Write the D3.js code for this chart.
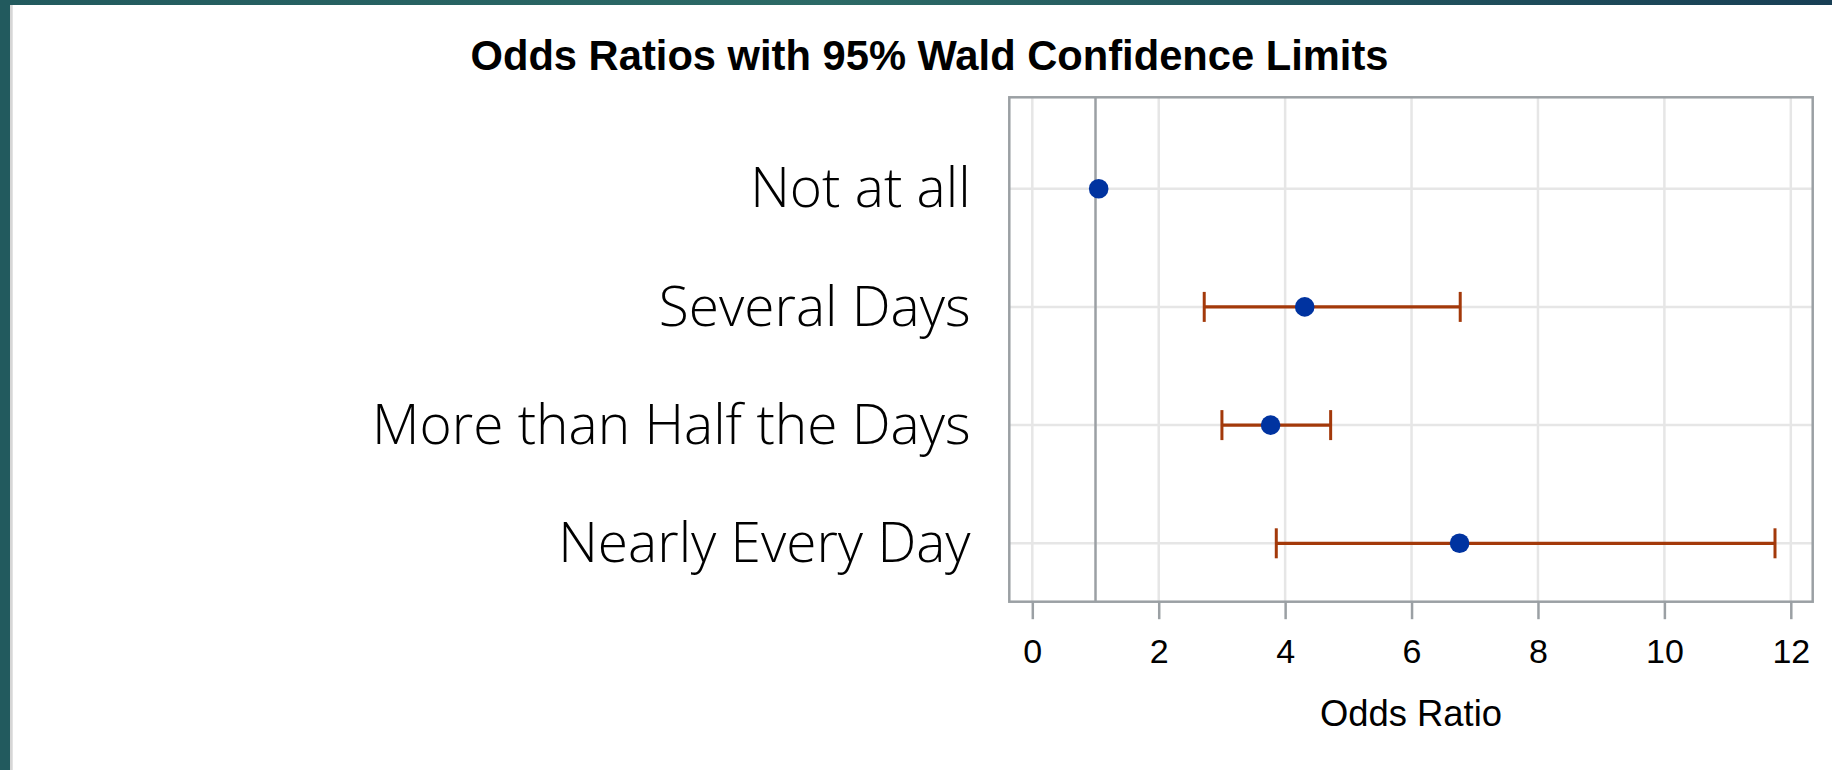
<!DOCTYPE html>
<html>
<head>
<meta charset="utf-8">
<script src="https://cdn.jsdelivr.net/npm/d3@7"></script>
<style>
  body { margin: 0; background: #fff; }
  svg { display: block; }
</style>
</head>
<body>
<svg id="chart" width="1832" height="770"></svg>
<script>
// values
const categories = ["Not at all", "Several Days", "More than Half the Days", "Nearly Every Day"]
const oddsRatio = [1.05, 4.31, 3.77, 6.76]
const lowerCL = [null, 2.72, 3.00, 3.86]
const upperCL = [null, 6.77, 4.72, 11.75]
const xTicks = [0, 2, 4, 6, 8, 10, 12]
const refValue = 1

const frame = { left: 1009.3, right: 1812.7, top: 97.3, bottom: 601.7 }
const gray = "#9ba0a4", grid = "#e6e6e6", rust = "#a3390a", blue = "#0033a0"

const svg = d3.select("#chart")

// slide decoration: teal bands on the top and left edge
const defs = svg.append("defs")
const grad = defs.append("linearGradient").attr("id", "teal")
grad.append("stop").attr("offset", "0%").attr("stop-color", "#225a5e")
grad.append("stop").attr("offset", "45%").attr("stop-color", "#2c6a66")
grad.append("stop").attr("offset", "100%").attr("stop-color", "#183f55")
svg.append("rect").attr("x", 0).attr("y", 0).attr("width", 1832).attr("height", 5).attr("fill", "url(#teal)")
svg.append("rect").attr("x", 0).attr("y", 0).attr("width", 10).attr("height", 770).attr("fill", "#225a5e")
svg.append("rect").attr("x", 10).attr("y", 5).attr("width", 2.7).attr("height", 765).attr("fill", "#d6d6d6")

const x = d3.scaleLinear().domain([0, 12]).range([1032.3, 1790.8])
const y = d3.scalePoint().domain(categories).range([188.7, 543.3])

// title
svg.append("text")
    .attr("x", 929.5).attr("y", 69.5)
    .attr("text-anchor", "middle")
    .style("font-family", "'Liberation Sans', Arial, sans-serif")
    .style("font-weight", "bold")
    .style("font-size", "41.7px")
    .attr("fill", "#000")
    .text("Odds Ratios with 95% Wald Confidence Limits")

// grid
const g = svg.append("g")
g.selectAll(".vgrid").data(xTicks).join("line")
    .attr("x1", d => x(d)).attr("x2", d => x(d))
    .attr("y1", frame.top).attr("y2", frame.bottom)
    .attr("stroke", grid).attr("stroke-width", 2.5)
g.selectAll(".hgrid").data(categories).join("line")
    .attr("x1", frame.left).attr("x2", frame.right)
    .attr("y1", d => y(d)).attr("y2", d => y(d))
    .attr("stroke", grid).attr("stroke-width", 2.5)

// reference line at OR = 1
g.append("line")
    .attr("x1", x(refValue)).attr("x2", x(refValue))
    .attr("y1", frame.top).attr("y2", frame.bottom)
    .attr("stroke", gray).attr("stroke-width", 2.5)

// frame
g.append("rect")
    .attr("x", frame.left).attr("y", frame.top)
    .attr("width", frame.right - frame.left).attr("height", frame.bottom - frame.top)
    .attr("fill", "none").attr("stroke", gray).attr("stroke-width", 2.5)

// x axis
const xAxis = svg.append("g")
    .attr("transform", `translate(0,${frame.bottom})`)
    .call(d3.axisBottom(x).tickValues(xTicks).tickSize(17.5).tickFormat(d3.format("d")))
xAxis.select(".domain").remove()
xAxis.selectAll(".tick line").attr("stroke", gray).attr("stroke-width", 2.5)
xAxis.selectAll(".tick text")
    .attr("y", 61.6).attr("dy", 0)
    .attr("fill", "#000")
    .style("font-family", "'Liberation Sans', Arial, sans-serif")
    .style("font-size", "34px")

svg.append("text")
    .attr("x", (frame.left + frame.right) / 2).attr("y", 726)
    .attr("text-anchor", "middle")
    .style("font-family", "'Liberation Sans', Arial, sans-serif")
    .style("font-size", "36.4px")
    .attr("fill", "#000")
    .text("Odds Ratio")

// y axis labels
const yAxis = svg.append("g")
    .attr("transform", `translate(${frame.left},0)`)
    .call(d3.axisLeft(y).tickSize(0).tickPadding(38.7))
yAxis.select(".domain").remove()
yAxis.selectAll(".tick text")
    .attr("dy", "0.33em")
    .attr("fill", "#000")
    .style("font-family", "'Open Sans', 'Noto Sans', sans-serif")
    .style("font-weight", "350")
    .style("font-size", "55px")

// confidence limits
const rows = categories.map((c, i) => ({ cat: c, or: oddsRatio[i], lo: lowerCL[i], hi: upperCL[i] }))
const withCI = rows.filter(d => d.lo != null)
const bars = svg.append("g")
bars.selectAll(".ci").data(withCI).join("line")
    .attr("x1", d => x(d.lo)).attr("x2", d => x(d.hi))
    .attr("y1", d => y(d.cat)).attr("y2", d => y(d.cat))
    .attr("stroke", rust).attr("stroke-width", 3.3)
bars.selectAll(".caplo").data(withCI).join("line")
    .attr("x1", d => x(d.lo)).attr("x2", d => x(d.lo))
    .attr("y1", d => y(d.cat) - 15).attr("y2", d => y(d.cat) + 15)
    .attr("stroke", rust).attr("stroke-width", 3)
bars.selectAll(".caphi").data(withCI).join("line")
    .attr("x1", d => x(d.hi)).attr("x2", d => x(d.hi))
    .attr("y1", d => y(d.cat) - 15).attr("y2", d => y(d.cat) + 15)
    .attr("stroke", rust).attr("stroke-width", 3)

// point estimates
svg.append("g").selectAll("circle").data(rows).join("circle")
    .attr("cx", d => x(d.or)).attr("cy", d => y(d.cat))
    .attr("r", 9.8)
    .attr("fill", blue)
</script>
</body>
</html>
